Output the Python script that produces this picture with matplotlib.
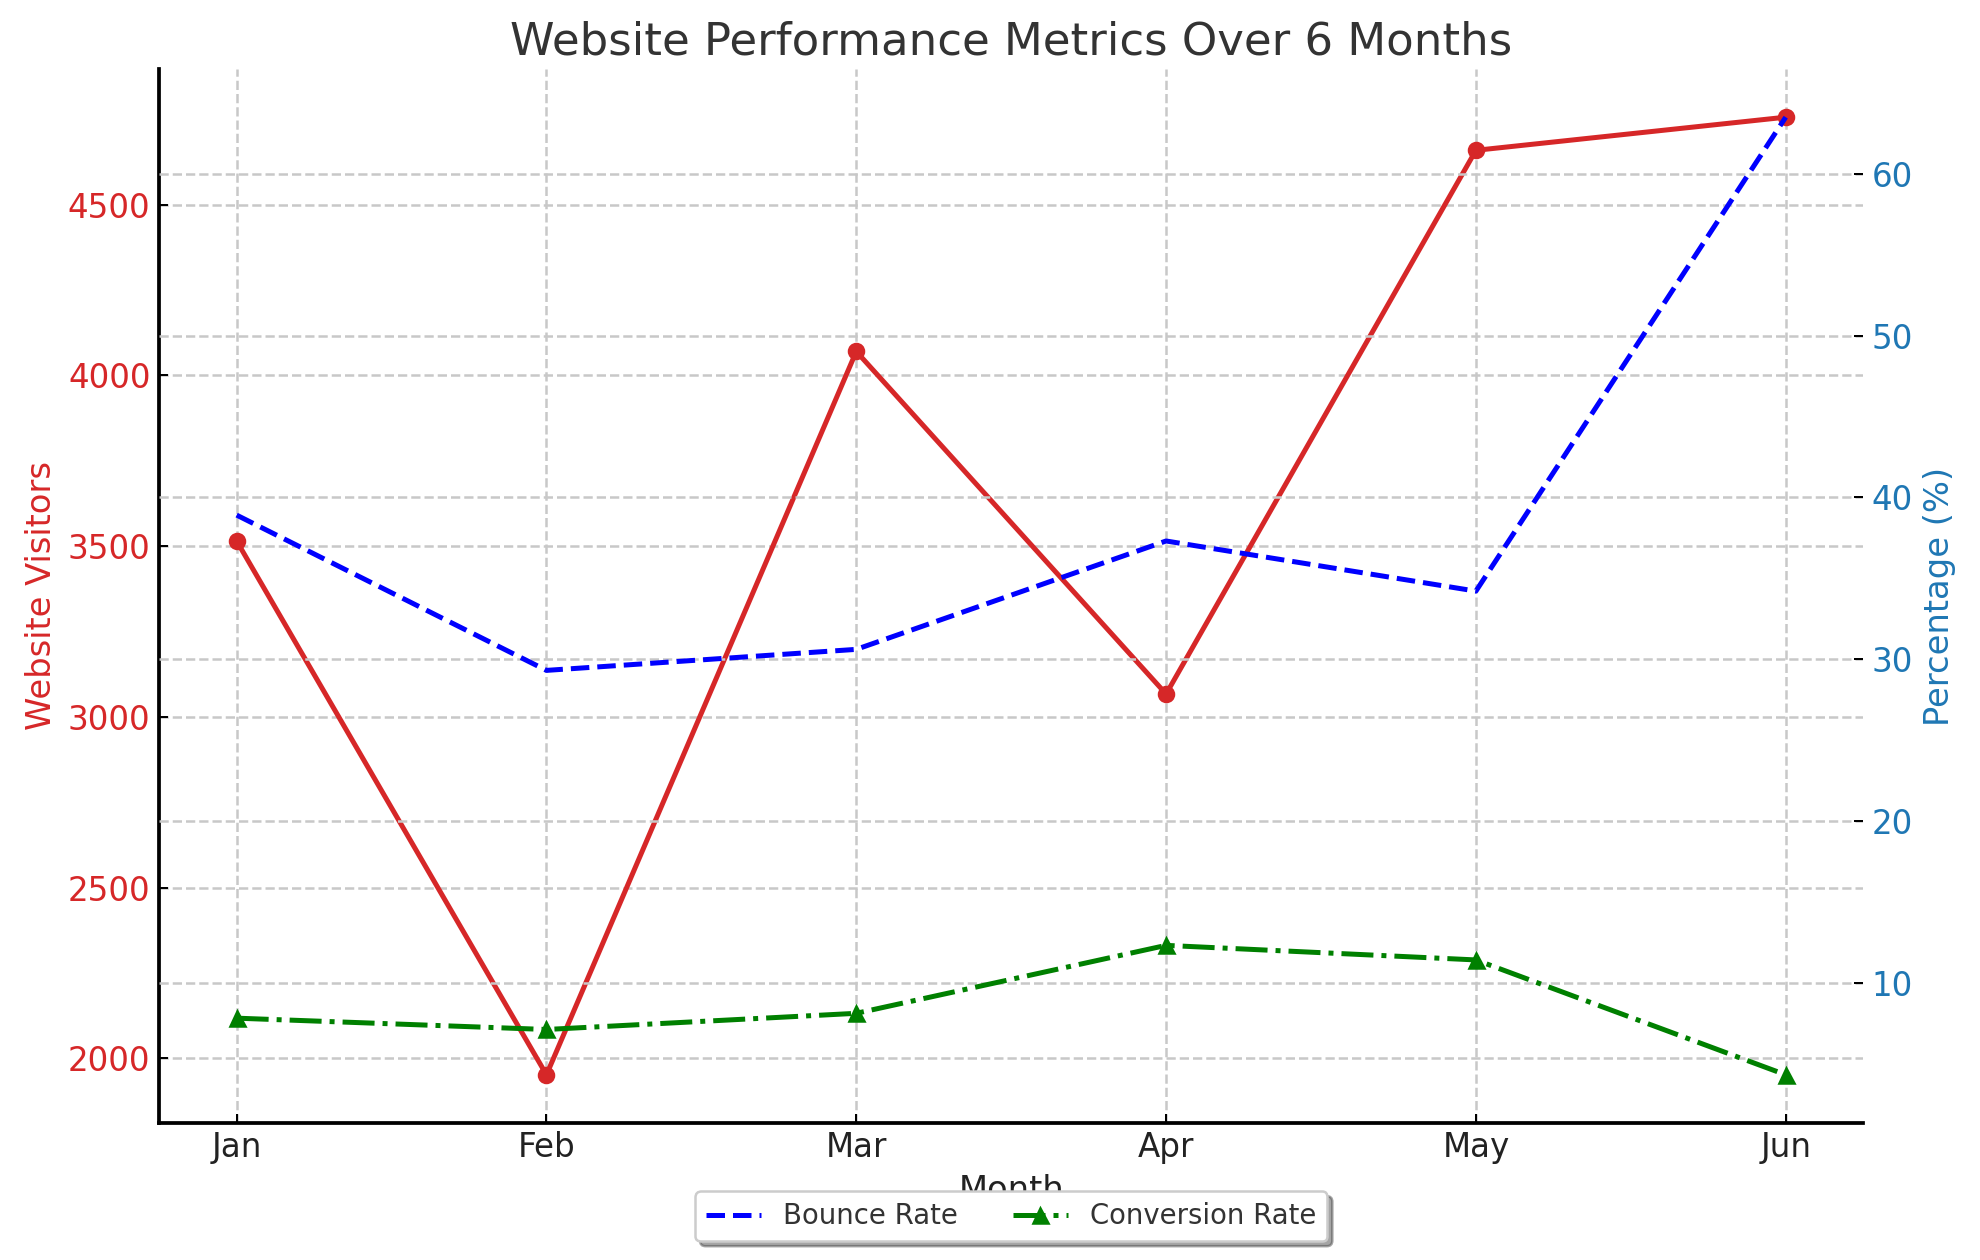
import matplotlib.pyplot as plt

months = ['Jan', 'Feb', 'Mar', 'Apr', 'May', 'Jun']
visitors = [3515, 1952, 4070, 3067, 4659, 4756]
bounce_rate = [38.9, 29.3, 30.6, 37.3, 34.2, 63.5]
conversion_rate = [7.8, 7.1, 8.1, 12.3, 11.4, 4.3]

plt.rcParams['font.family'] = ['DejaVu Sans']

fig, ax1 = plt.subplots(figsize=(11, 7), dpi=180)

ax1.plot(months, visitors, color='tab:red', marker='o', linewidth=2, label='Website Visitors')
ax1.set_xlabel('Month', fontsize=13.5, color='#222222')
ax1.set_ylabel('Website Visitors', fontsize=13.5, color='tab:red')
ax1.tick_params(axis='y', labelcolor='tab:red', labelsize=13, direction='in')
ax1.tick_params(axis='x', labelsize=13, labelcolor='#222222', direction='in')
ax1.grid(True, linestyle='--', color='#c8c8c8', linewidth=1)
ax1.spines['top'].set_visible(False)
ax1.spines['right'].set_visible(False)
ax1.spines['left'].set_linewidth(1.5)
ax1.spines['bottom'].set_linewidth(1.5)

ax2 = ax1.twinx()
ax2.plot(months, bounce_rate, color='blue', linestyle='--', linewidth=2, label='Bounce Rate')
ax2.plot(months, conversion_rate, color='green', linestyle='-.', marker='^', linewidth=2, label='Conversion Rate')
ax2.set_ylabel('Percentage (%)', fontsize=13.5, color='tab:blue')
ax2.tick_params(axis='y', labelcolor='tab:blue', labelsize=13, direction='in')
ax2.grid(True, linestyle='--', color='#c8c8c8', linewidth=1)
for s in ['top', 'right', 'left', 'bottom']:
    ax2.spines[s].set_visible(False)

ax2.legend(loc='upper center', bbox_to_anchor=(0.5, -0.052), ncol=2, shadow=True,
           fontsize=11, labelcolor='#333333')

ax1.set_title('Website Performance Metrics Over 6 Months', fontsize=18, color='#333333')

fig.subplots_adjust(left=0.0804, right=0.941, top=0.945, bottom=0.109)
fig.savefig('out.png')
